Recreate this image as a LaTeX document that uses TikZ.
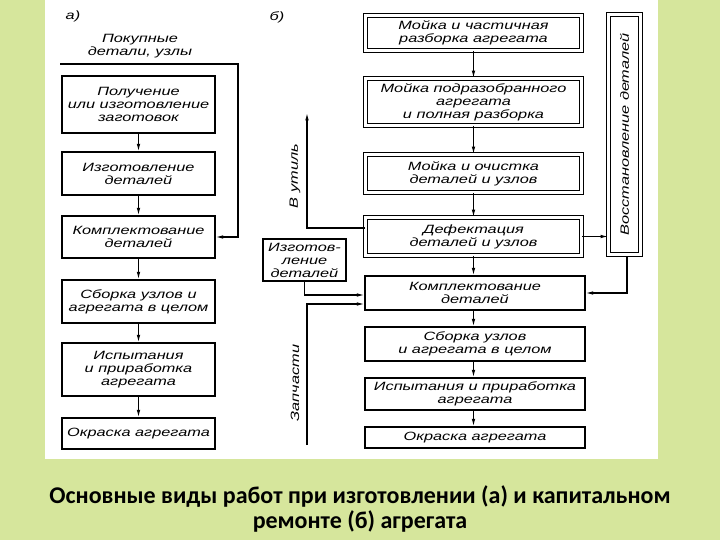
\documentclass[tikz,border=0pt]{standalone}
\usepackage{fontspec}
\usetikzlibrary{arrows.meta,calc}
\newfontfamily\gost[FakeStretch=1.36]{Liberation Sans Italic}
\newfontfamily\capfont{Carlito}
\definecolor{bggreen}{RGB}{214,230,156}
\begin{document}
\begin{tikzpicture}[x=1pt,y=-1pt,
  every node/.style={inner sep=0pt, align=center, font=\gost\fontsize{12}{13}\selectfont},
  box/.style={draw, line width=1.3pt, rectangle},
  dbox/.style={draw, line width=0.9pt, double, double distance=3pt, rectangle},
  arr/.style={line width=1.1pt, -{Latex[length=7.5pt,width=3.6pt]}},
  captext/.style={font=\capfont\bfseries\fontsize{24}{25}\selectfont, align=center}]
\useasboundingbox (0,0) rectangle (720,540);
\fill[bggreen] (0,0) rectangle (720,540);
\fill[white] (45,0) rectangle (658,459);

% column a
\node (la) at (73,16) {а)};
\node (buy) at (140,46) {Покупные\\детали, узлы};
\node[box, minimum width=153pt, minimum height=57pt] (L1) at (138.5,104.5) {Получение\\или изготовление\\заготовок};
\node[box, minimum width=153pt, minimum height=43pt] (L2) at (138.5,173.5) {Изготовление\\деталей};
\node[box, minimum width=153pt, minimum height=42pt] (L3) at (138.5,237) {Комплектование\\деталей};
\node[box, minimum width=153pt, minimum height=43pt] (L4) at (138.5,301.5) {Сборка узлов и\\агрегата в целом};
\node[box, minimum width=153pt, minimum height=53pt] (L5) at (138.5,369.5) {Испытания\\и приработка\\агрегата};
\node[box, minimum width=153pt, minimum height=31pt] (L6) at (138.5,433.5) {Окраска агрегата};
\draw[arr] (L1) -- (L2);
\draw[arr] (L2) -- (L3);
\draw[arr] (L3) -- (L4);
\draw[arr] (L4) -- (L5);
\draw[arr] (L5) -- (L6);
\coordinate (p0) at (60,64);
\coordinate (p1) at (238,64);
\draw[arr] (p0) -- (p1) |- (L3.east);

% column b
\node (lb) at (277,17) {б)};
\node[dbox, minimum width=216pt, minimum height=35pt] (R1) at (473.5,33) {Мойка и частичная\\разборка агрегата};
\node[dbox, minimum width=216pt, minimum height=47pt] (R2) at (473.5,102) {Мойка подразобранного\\агрегата\\и полная разборка};
\node[dbox, minimum width=216pt, minimum height=38pt] (R3) at (473.5,173.5) {Мойка и очистка\\деталей и узлов};
\node[dbox, minimum width=216pt, minimum height=38pt] (R4) at (473.5,236.5) {Дефектация\\деталей и узлов};
\node[box, minimum width=220pt, minimum height=34pt] (R5) at (475,293) {Комплектование\\деталей};
\node[box, minimum width=220pt, minimum height=34pt] (R6) at (475,344) {Сборка узлов\\и агрегата в целом};
\node[box, minimum width=220pt, minimum height=32pt] (R7) at (475,394) {Испытания и приработка\\агрегата};
\node[box, minimum width=220pt, minimum height=21pt] (R8) at (475,437.5) {Окраска агрегата};
\node[dbox, minimum width=32pt, minimum height=240pt] (V) at (624.5,134.5) {\rotatebox{90}{Восстановление деталей}};
\node[box, minimum width=83pt, minimum height=42pt] (I) at (304.5,260) {Изготов-\\ление\\деталей};

\draw[arr] (R1) -- (R2);
\draw[arr] (R2) -- (R3);
\draw[arr] (R3) -- (R4);
\draw[arr] (R4) -- (R5.north -| R4.south);
\draw[arr] (R5.south -| R4.south) -- (R6.north -| R4.south);
\draw[arr] (R6.south -| R4.south) -- (R7.north -| R4.south);
\draw[arr] (R7.south -| R4.south) -- (R8.north -| R4.south);
\draw[arr] (R4.east) -- (R4.east -| V.west);
\draw[arr] ($(V.south)+(2.5,2.4)$) |- (R5.east);

\coordinate (ut) at (307,228);
\coordinate (utop) at (307,113);
\draw[arr] (R4.west |- ut) -- (ut) -- (utop);
\node[rotate=90] (tutil) at (295,176) {В утиль};

\draw[arr] (I.south) |- (R5.west |- 0,295);
\coordinate (zb) at (307,445);
\draw[arr] (zb) |- (R5.west |- 0,304);
\node[rotate=90] (tzap) at (295,383) {Запчасти};

\node[captext] (caption) at (360,509) {Основные виды работ при изготовлении (а) и капитальном\\ремонте (б) агрегата};
\end{tikzpicture}
\end{document}
